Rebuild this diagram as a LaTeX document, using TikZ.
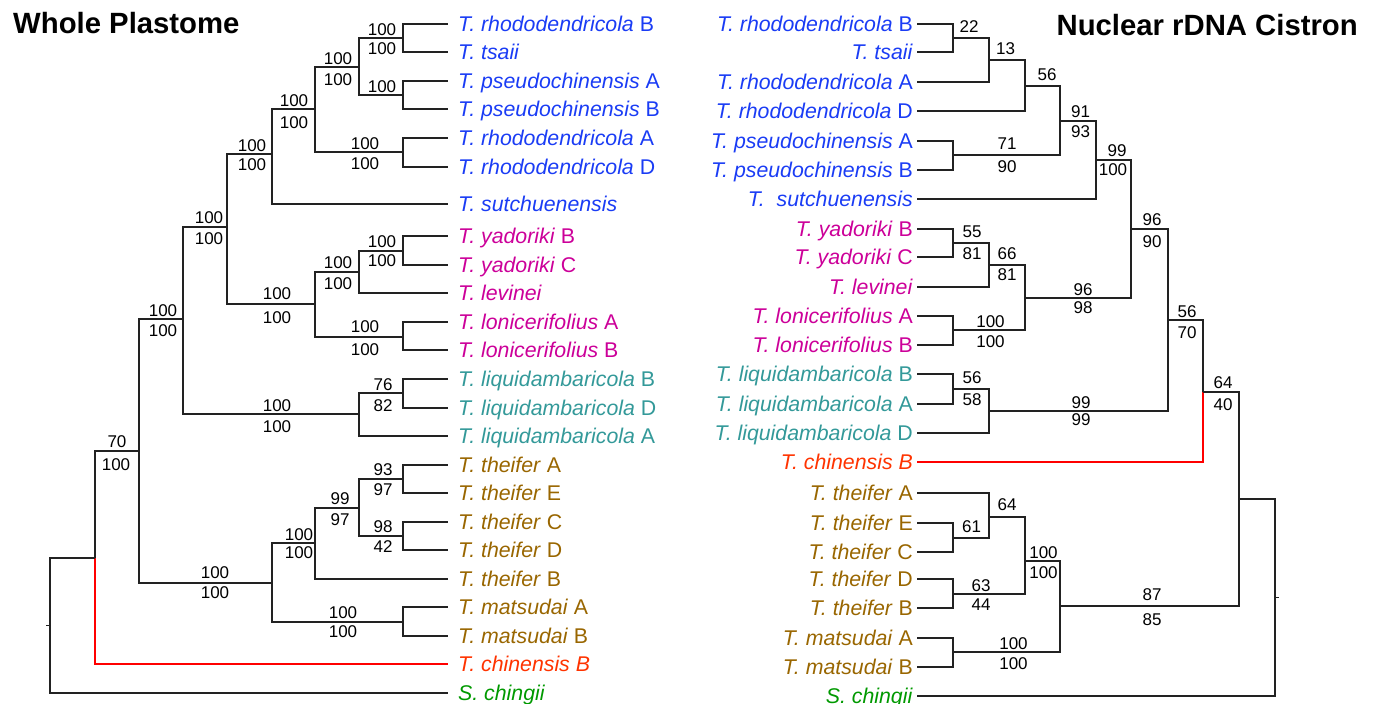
\documentclass[tikz,border=0pt]{standalone}
\usepackage{fontspec}
\setmainfont{Liberation Sans}
\definecolor{cblue}{HTML}{1A3CF5}
\definecolor{cmag}{HTML}{CC0099}
\definecolor{cteal}{HTML}{339999}
\definecolor{cbrown}{HTML}{996600}
\definecolor{credtxt}{HTML}{FF3300}
\definecolor{credline}{HTML}{FF0000}
\definecolor{cgreen}{HTML}{009900}
\definecolor{cline}{HTML}{222222}
\newcommand\lleaf[4]{\coordinate (#1) at (448,#2); \node[leftlbl,text=#3] (#1t) at (458,#2+7) {#4};}
\newcommand\rleaf[4]{\coordinate (#1) at (917,#2); \node[rightlbl,text=#3] (#1t) at (913,#2+7) {#4};}
\newcommand\bsl[4]{\node[bsnum] (#1) at (#2,#3) {#4};}
\begin{document}
\begin{tikzpicture}[x=1pt,y=-1pt,
  br/.style={draw=cline,line width=1.2pt},
  redbr/.style={draw=credline,line width=1.2pt},
  lbl/.style={font=\fontsize{21.3}{24}\selectfont,inner sep=0pt},
  leftlbl/.style={lbl,anchor=base west},
  rightlbl/.style={lbl,anchor=base east},
  bsnum/.style={font=\fontsize{17}{19}\selectfont,inner sep=0pt},
  titletxt/.style={font=\fontsize{29.3}{32}\selectfont\bfseries,inner sep=0pt}]
\useasboundingbox (0,0) rectangle (1376,704);
\node[titletxt,anchor=base west] (title1) at (13,33.5) {Whole Plastome};
\node[titletxt,anchor=base east] (title2) at (1358,35.5) {Nuclear rDNA Cistron};
% ---------------- left tree ----------------
\lleaf{L1}{24}{cblue}{\textit{T. rhododendricola} B}
\lleaf{L2}{52}{cblue}{\textit{T. tsaii}}
\lleaf{L3}{81}{cblue}{\textit{T. pseudochinensis} A}
\lleaf{L4}{109}{cblue}{\textit{T. pseudochinensis} B}
\lleaf{L5}{138}{cblue}{\textit{T. rhododendricola} A}
\lleaf{L6}{167}{cblue}{\textit{T. rhododendricola} D}
\lleaf{L7}{204}{cblue}{\textit{T. sutchuenensis}}
\lleaf{L8}{236}{cmag}{\textit{T. yadoriki} B}
\lleaf{L9}{265}{cmag}{\textit{T. yadoriki} C}
\lleaf{L10}{293}{cmag}{\textit{T. levinei}}
\lleaf{L11}{322}{cmag}{\textit{T. lonicerifolius} A}
\lleaf{L12}{350}{cmag}{\textit{T. lonicerifolius} B}
\lleaf{L13}{379}{cteal}{\textit{T. liquidambaricola} B}
\lleaf{L14}{408}{cteal}{\textit{T. liquidambaricola} D}
\lleaf{L15}{436}{cteal}{\textit{T. liquidambaricola} A}
\lleaf{L16}{465}{cbrown}{\textit{T. theifer} A}
\lleaf{L17}{493}{cbrown}{\textit{T. theifer} E}
\lleaf{L18}{522}{cbrown}{\textit{T. theifer} C}
\lleaf{L19}{550}{cbrown}{\textit{T. theifer} D}
\lleaf{L20}{579}{cbrown}{\textit{T. theifer} B}
\lleaf{L21}{607}{cbrown}{\textit{T. matsudai} A}
\lleaf{L22}{636}{cbrown}{\textit{T. matsudai} B}
\lleaf{L23}{664}{credtxt}{\textit{T. chinensis B}}
\lleaf{L24}{693}{cgreen}{\textit{S. chingii}}
\coordinate (N1) at (403,38);
\coordinate (N2) at (403,95);
\coordinate (N3) at (359,67);
\coordinate (N4) at (403,152);
\coordinate (N5) at (315,109);
\coordinate (N6) at (272,154);
\coordinate (N7) at (227,227);
\coordinate (N8) at (315,304);
\coordinate (N9) at (403,251);
\coordinate (N10) at (359,272);
\coordinate (N11) at (403,337);
\coordinate (N12) at (403,393);
\coordinate (N13) at (359,414);
\coordinate (N14) at (183,319);
\coordinate (N15) at (403,479);
\coordinate (N16) at (403,536);
\coordinate (N17) at (359,508);
\coordinate (N18) at (315,543);
\coordinate (N19) at (403,622);
\coordinate (N20) at (272,583);
\coordinate (N21) at (139,451);
\coordinate (N22) at (95,558);
\coordinate (Lroot) at (50,625.5);
\draw[br] (N1) |- (L1); \draw[br] (N1) |- (L2);
\draw[br] (N2) |- (L3); \draw[br] (N2) |- (L4);
\draw[br] (N3) |- (N1); \draw[br] (N3) |- (N2);
\draw[br] (N4) |- (L5); \draw[br] (N4) |- (L6);
\draw[br] (N5) |- (N3); \draw[br] (N5) |- (N4);
\draw[br] (N6) |- (N5); \draw[br] (N6) |- (L7);
\draw[br] (N9) |- (L8); \draw[br] (N9) |- (L9);
\draw[br] (N10) |- (N9); \draw[br] (N10) |- (L10);
\draw[br] (N11) |- (L11); \draw[br] (N11) |- (L12);
\draw[br] (N8) |- (N10); \draw[br] (N8) |- (N11);
\draw[br] (N7) |- (N6); \draw[br] (N7) |- (N8);
\draw[br] (N12) |- (L13); \draw[br] (N12) |- (L14);
\draw[br] (N13) |- (N12); \draw[br] (N13) |- (L15);
\draw[br] (N14) |- (N7); \draw[br] (N14) |- (N13);
\draw[br] (N15) |- (L16); \draw[br] (N15) |- (L17);
\draw[br] (N16) |- (L18); \draw[br] (N16) |- (L19);
\draw[br] (N17) |- (N15); \draw[br] (N17) |- (N16);
\draw[br] (N18) |- (N17); \draw[br] (N18) |- (L20);
\draw[br] (N19) |- (L21); \draw[br] (N19) |- (L22);
\draw[br] (N20) |- (N18); \draw[br] (N20) |- (N19);
\draw[br] (N21) |- (N14); \draw[br] (N21) |- (N20);
\draw[br] (N22) |- (N21); \draw[redbr] (N22) |- (L23);
\draw[br] (Lroot) |- (N22); \draw[br] (Lroot) |- (L24);
\draw[br] (Lroot) -- ++(-4,0);
% left support values
\bsl{n1a}{382}{30}{100} \bsl{n1b}{382}{48.5}{100}
\bsl{n2a}{382}{87}{100}
\bsl{n3a}{338}{58.5}{100} \bsl{n3b}{338}{79.5}{100}
\bsl{n4a}{365}{144}{100} \bsl{n4b}{365}{164}{100}
\bsl{n5a}{294}{100.5}{100} \bsl{n5b}{294}{123}{100}
\bsl{n6a}{252}{146}{100} \bsl{n6b}{252}{164.5}{100}
\bsl{n7a}{209}{218}{100} \bsl{n7b}{209}{238.5}{100}
\bsl{n9a}{382}{242}{100} \bsl{n9b}{382}{261}{100}
\bsl{n10a}{338}{263}{100} \bsl{n10b}{338}{283.5}{100}
\bsl{n8a}{277}{294}{100} \bsl{n8b}{277}{318}{100}
\bsl{n11a}{365}{327}{100} \bsl{n11b}{365}{349.5}{100}
\bsl{n12a}{383}{385}{76} \bsl{n12b}{383}{405.5}{82}
\bsl{n13a}{277}{405.5}{100} \bsl{n13b}{277}{426.5}{100}
\bsl{n14a}{163}{310.5}{100} \bsl{n14b}{163}{331}{100}
\bsl{n21a}{117}{442}{70} \bsl{n21b}{116}{465}{100}
\bsl{n15a}{383}{469.5}{93} \bsl{n15b}{383}{489.5}{97}
\bsl{n16a}{383}{526.5}{98} \bsl{n16b}{383}{546.5}{42}
\bsl{n17a}{340}{499}{99} \bsl{n17b}{340}{519.5}{97}
\bsl{n18a}{299}{534.5}{100} \bsl{n18b}{299}{552.5}{100}
\bsl{n20a}{215}{573}{100} \bsl{n20b}{215}{593}{100}
\bsl{n19a}{343}{613}{100} \bsl{n19b}{343}{632}{100}
% ---------------- right tree ----------------
\rleaf{M1}{24}{cblue}{\textit{T. rhododendricola} B}
\rleaf{M2}{52}{cblue}{\textit{T. tsaii}}
\rleaf{M3}{82}{cblue}{\textit{T. rhododendricola} A}
\rleaf{M4}{111}{cblue}{\textit{T. rhododendricola} D}
\rleaf{M5}{141}{cblue}{\textit{T. pseudochinensis} A}
\rleaf{M6}{170}{cblue}{\textit{T. pseudochinensis} B}
\rleaf{M7}{199}{cblue}{\textit{T.\ \ sutchuenensis}}
\rleaf{M8}{229}{cmag}{\textit{T. yadoriki} B}
\rleaf{M9}{257}{cmag}{\textit{T. yadoriki} C}
\rleaf{M10}{287}{cmag}{\textit{T. levinei}}
\rleaf{M11}{316}{cmag}{\textit{T. lonicerifolius} A}
\rleaf{M12}{345}{cmag}{\textit{T. lonicerifolius} B}
\rleaf{M13}{374}{cteal}{\textit{T. liquidambaricola} B}
\rleaf{M14}{404}{cteal}{\textit{T. liquidambaricola} A}
\rleaf{M15}{433}{cteal}{\textit{T. liquidambaricola} D}
\rleaf{M16}{462}{credtxt}{\textit{T. chinensis B}}
\rleaf{M17}{493}{cbrown}{\textit{T. theifer} A}
\rleaf{M18}{523}{cbrown}{\textit{T. theifer} E}
\rleaf{M19}{552}{cbrown}{\textit{T. theifer} C}
\rleaf{M20}{579}{cbrown}{\textit{T. theifer} D}
\rleaf{M21}{608}{cbrown}{\textit{T. theifer} B}
\rleaf{M22}{638}{cbrown}{\textit{T. matsudai} A}
\rleaf{M23}{667}{cbrown}{\textit{T. matsudai} B}
\rleaf{M24}{696}{cgreen}{\textit{S. chingii}}
\coordinate (R1) at (953,38);
\coordinate (R2) at (989,60);
\coordinate (R3) at (1025,86);
\coordinate (R4) at (953,155);
\coordinate (R5) at (1060,121);
\coordinate (R6) at (1096,160);
\coordinate (R7) at (953,243);
\coordinate (R8) at (989,265);
\coordinate (R9) at (953,330);
\coordinate (R10) at (1025,298);
\coordinate (R11) at (1131,229);
\coordinate (R12) at (953,389);
\coordinate (R13) at (989,411);
\coordinate (R14) at (1168,320);
\coordinate (R15) at (1203,392);
\coordinate (R16) at (953,538);
\coordinate (R17) at (989,517);
\coordinate (R18) at (953,594);
\coordinate (R19) at (1025,561);
\coordinate (R20) at (953,652);
\coordinate (R21) at (1060,606);
\coordinate (R22) at (1239,499);
\coordinate (Rroot) at (1275,597.5);
\draw[br] (R1) |- (M1); \draw[br] (R1) |- (M2);
\draw[br] (R2) |- (R1); \draw[br] (R2) |- (M3);
\draw[br] (R3) |- (R2); \draw[br] (R3) |- (M4);
\draw[br] (R4) |- (M5); \draw[br] (R4) |- (M6);
\draw[br] (R5) |- (R3); \draw[br] (R5) |- (R4);
\draw[br] (R6) |- (R5); \draw[br] (R6) |- (M7);
\draw[br] (R7) |- (M8); \draw[br] (R7) |- (M9);
\draw[br] (R8) |- (R7); \draw[br] (R8) |- (M10);
\draw[br] (R9) |- (M11); \draw[br] (R9) |- (M12);
\draw[br] (R10) |- (R8); \draw[br] (R10) |- (R9);
\draw[br] (R11) |- (R6); \draw[br] (R11) |- (R10);
\draw[br] (R12) |- (M13); \draw[br] (R12) |- (M14);
\draw[br] (R13) |- (R12); \draw[br] (R13) |- (M15);
\draw[br] (R14) |- (R11); \draw[br] (R14) |- (R13);
\draw[br] (R15) |- (R14); \draw[redbr] (R15) |- (M16);
\draw[br] (R16) |- (M18); \draw[br] (R16) |- (M19);
\draw[br] (R17) |- (M17); \draw[br] (R17) |- (R16);
\draw[br] (R18) |- (M20); \draw[br] (R18) |- (M21);
\draw[br] (R19) |- (R17); \draw[br] (R19) |- (R18);
\draw[br] (R20) |- (M22); \draw[br] (R20) |- (M23);
\draw[br] (R21) |- (R19); \draw[br] (R21) |- (R20);
\draw[br] (R22) |- (R15); \draw[br] (R22) |- (R21);
\draw[br] (Rroot) |- (R22); \draw[br] (Rroot) |- (M24);
\draw[br] (Rroot) -- ++(4,0);
% right support values
\bsl{r1a}{969}{27}{22}
\bsl{r2a}{1005.5}{49}{13}
\bsl{r3a}{1047}{74.5}{56}
\bsl{r4a}{1007}{144}{71} \bsl{r4b}{1007}{166.5}{90}
\bsl{r5a}{1080.5}{112}{91} \bsl{r5b}{1080.5}{131.5}{93}
\bsl{r6a}{1117}{150.5}{99} \bsl{r6b}{1113}{170}{100}
\bsl{r7a}{972}{231.5}{55} \bsl{r7b}{972}{254}{81}
\bsl{r8a}{1007}{254}{66} \bsl{r8b}{1007}{274.5}{81}
\bsl{r11a}{1152}{220}{96} \bsl{r11b}{1152}{241.5}{90}
\bsl{r10a}{1083}{290}{96} \bsl{r10b}{1083}{307.5}{98}
\bsl{r9a}{990.5}{321.5}{100} \bsl{r9b}{990.5}{341.5}{100}
\bsl{r14a}{1187}{311.5}{56} \bsl{r14b}{1187}{333}{70}
\bsl{r12a}{972}{377.5}{56} \bsl{r12b}{972}{400}{58}
\bsl{r13a}{1081}{402.5}{99} \bsl{r13b}{1081}{420}{99}
\bsl{r15a}{1223}{383}{64} \bsl{r15b}{1223}{405}{40}
\bsl{r17a}{1007}{505}{64}
\bsl{r16a}{971.5}{527}{61}
\bsl{r19a}{1043.5}{552.5}{100} \bsl{r19b}{1043.5}{572.5}{100}
\bsl{r18a}{981}{585.5}{63} \bsl{r18b}{981}{604.5}{44}
\bsl{r20a}{1013.5}{643.5}{100} \bsl{r20b}{1013.5}{663.5}{100}
\bsl{r21a}{1152}{595}{87} \bsl{r21b}{1152}{620}{85}
\end{tikzpicture}
\end{document}
